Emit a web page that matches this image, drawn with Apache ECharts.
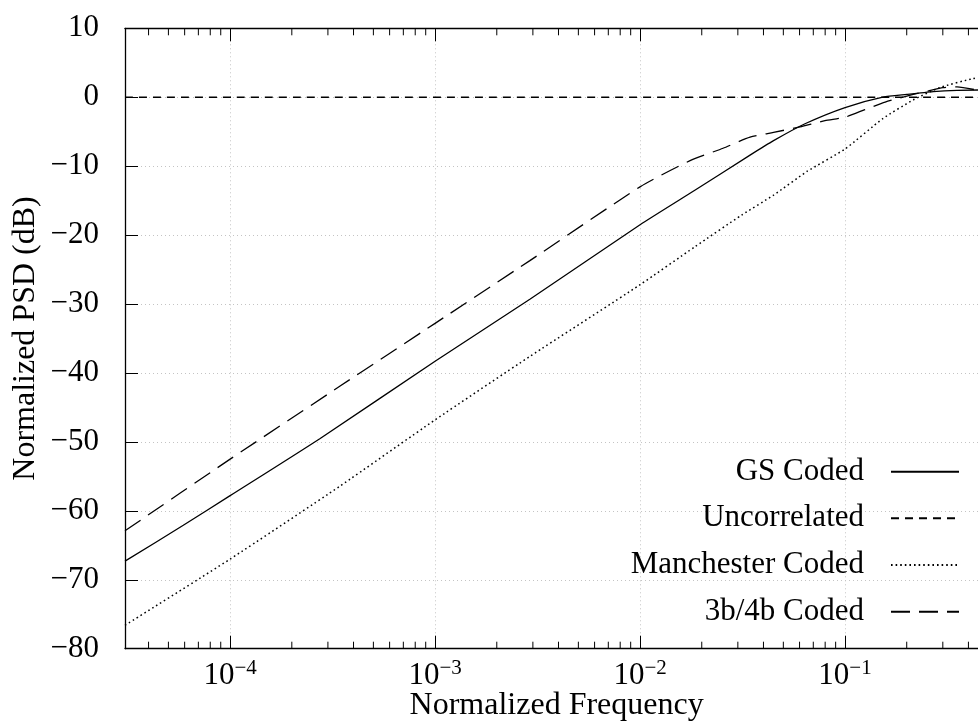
<!DOCTYPE html>
<html>
<head>
<meta charset="utf-8">
<script src="https://cdn.jsdelivr.net/npm/echarts@6/dist/echarts.min.js"></script>
<style>
html,body{margin:0;padding:0;background:#fff;}
#chart{width:978px;height:721px;}
</style>
</head>
<body>
<div id="chart"></div>
<script>
// ---- data ----
const xMin = 3.07e-5;
const xMax = 0.5;

const gsFreq = [3.07e-5, 5.91e-5, 1e-4, 2.75e-4, 1e-3, 2.9e-3, 1e-2, 1.85e-2, 3.44e-2, 4.48e-2, 6.38e-2, 0.1, 0.153, 0.2, 0.269, 0.352, 0.446, 0.5];
const gsDb   = [-67.3, -62.1, -57.8, -49.5, -38.3, -29.3, -18.5, -13.5, -8.4, -6.3, -3.85, -1.5, 0, 0.4, 0.8, 1.0, 1.05, 1.0];

const uncFreq = [3.07e-5, 0.5];
const uncDb   = [0, 0];

const manFreq = [3.07e-5, 1e-4, 3.44e-4, 1e-3, 2.9e-3, 1e-2, 1.85e-2, 3.13e-2, 4.48e-2, 6.5e-2, 0.1, 0.153, 0.215, 0.29, 0.42, 0.5];
const manDb   = [-76.6, -67.0, -56.4, -46.8, -37.6, -27.2, -21.7, -17.1, -14.2, -10.8, -7.5, -3.1, -0.4, 1.4, 2.7, 3.1];

const b34Freq = [3.07e-5, 1e-4, 3.44e-4, 1e-3, 2.9e-3, 1e-2, 1.754e-2, 2.54e-2, 3.44e-2, 4.48e-2, 6.03e-2, 7.98e-2, 0.1, 0.125, 0.157, 0.215, 0.254, 0.3, 0.352, 0.446, 0.5];
const b34Db   = [-62.9, -52.5, -41.9, -32.8, -23.7, -13.0, -9.2, -7.4, -5.8, -5.1, -4.3, -3.4, -2.9, -1.8, -0.7, 0.4, 0.9, 1.4, 1.5, 1.0, 0.6];

const seriesNames = ['GS Coded', 'Uncorrelated', 'Manchester Coded', '3b/4b Coded'];
const yTicks = [-80, -70, -60, -50, -40, -30, -20, -10, 0, 10];
const minorTickFreq = [4e-5,5e-5,6e-5,7e-5,8e-5,9e-5,
  2e-4,3e-4,4e-4,5e-4,6e-4,7e-4,8e-4,9e-4,
  2e-3,3e-3,4e-3,5e-3,6e-3,7e-3,8e-3,9e-3,
  2e-2,3e-2,4e-2,5e-2,6e-2,7e-2,8e-2,9e-2,
  0.2,0.3,0.4];

// ---- build ----
const FONT = '"Liberation Serif", "Times New Roman", serif';
const zip = (a, b) => a.map((v, i) => [v, b[i]]);
const MINUS = '\u2212';

const lineBase = (name, f, d, dash, w) => ({
  name: name,
  type: 'line',
  data: zip(f, d),
  symbol: 'none',
  showSymbol: false,
  smooth: 0.2,
  clip: true,
  z: 3,
  lineStyle: { color: '#000', width: w, type: dash, cap: 'butt' },
  itemStyle: { color: '#000' },
  emphasis: { disabled: true }
});

const legendRows = [471.7, 518.3, 565, 611.7];
const legends = seriesNames.map((n, i) => ({
  data: [n],
  orient: 'vertical',
  right: 18,
  top: legendRows[i] - 16,
  align: 'right',
  padding: 0,
  itemWidth: 68,
  itemHeight: 14,
  selectedMode: false,
  itemStyle: { opacity: 0, borderWidth: 0 },
  textStyle: { fontFamily: FONT, fontSize: 31, color: '#000', lineHeight: 32, padding: [0, 22, 0, 0] }
}));

const chart = echarts.init(document.getElementById('chart'), null, { renderer: 'canvas' });
const option = {
  animation: false,
  backgroundColor: '#fff',
  grid: { left: 125, top: 28.3, width: 863.3, height: 620.4, outerBoundsMode: 'none', containLabel: false },
  legend: legends,
  xAxis: [
    {
      type: 'log', logBase: 10, min: xMin, max: xMax,
      name: 'Normalized Frequency', nameLocation: 'middle', nameGap: 41, nameMoveOverlap: false,
      nameTextStyle: { fontFamily: FONT, fontSize: 32, color: '#000' },
      axisLine: { show: true, onZero: false, lineStyle: { color: '#000', width: 1.3 } },
      axisTick: { show: true, inside: true, length: 13, lineStyle: { color: '#000', width: 1 } },
      axisLabel: {
        show: true, margin: 9, showMinLabel: false, showMaxLabel: false,
        formatter: function (v) {
          const e = Math.round(Math.log10(v));
          if (Math.abs(Math.log10(v) - e) > 1e-6) return '';
          return '{m|10}{s|' + (e < 0 ? MINUS + (-e) : e) + '}';
        },
        rich: {
          m: { fontFamily: FONT, fontSize: 31, color: '#000' },
          s: { fontFamily: FONT, fontSize: 21, color: '#000', padding: [0, 0, 16, 0] }
        }
      },
      splitLine: { show: true, lineStyle: { color: '#c4c4c4', width: 1, type: [1, 3] } },
      minorTick: { show: false }
    },
    {
      type: 'log', logBase: 10, min: xMin, max: xMax, position: 'top',
      axisLine: { show: true, onZero: false, lineStyle: { color: '#000', width: 1.3 } },
      axisTick: { show: true, inside: true, length: 13, lineStyle: { color: '#000', width: 1 } },
      axisLabel: { show: false },
      splitLine: { show: false }
    }
  ],
  yAxis: [
    {
      type: 'value', min: yTicks[0], max: yTicks[yTicks.length - 1], interval: 10,
      name: 'Normalized PSD (dB)', nameLocation: 'middle', nameGap: 83, nameRotate: 90, nameMoveOverlap: false,
      nameTextStyle: { fontFamily: FONT, fontSize: 32, color: '#000' },
      axisLine: { show: true, onZero: false, lineStyle: { color: '#000', width: 1.3 } },
      axisTick: { show: true, inside: true, length: 13, lineStyle: { color: '#000', width: 1 } },
      axisLabel: {
        margin: 26, fontFamily: FONT, fontSize: 31, color: '#000',
        formatter: v => (v < 0 ? MINUS + (-v) : '' + v)
      },
      splitLine: { show: true, lineStyle: { color: '#c4c4c4', width: 1, type: [1, 3] } }
    }
  ],
  series: [
    lineBase(seriesNames[0], gsFreq, gsDb, 'solid', 1.3),
    lineBase(seriesNames[1], uncFreq, uncDb, [8, 6], 1.3),
    lineBase(seriesNames[2], manFreq, manDb, [1.6, 3], 1.5),
    lineBase(seriesNames[3], b34Freq, b34Db, [19, 9], 1.3),
    {
      type: 'custom',
      silent: true,
      clip: false,
      z: 4,
      data: minorTickFreq.map(f => [f, yTicks[0]]),
      renderItem: function (params, api) {
        const f = api.value(0);
        const pb = api.coord([f, yTicks[0]]);
        const pt = api.coord([f, yTicks[yTicks.length - 1]]);
        return {
          type: 'group',
          children: [
            { type: 'line', shape: { x1: pb[0], y1: pb[1], x2: pb[0], y2: pb[1] - 7 }, style: { stroke: '#000', lineWidth: 1 } },
            { type: 'line', shape: { x1: pt[0], y1: pt[1], x2: pt[0], y2: pt[1] + 7 }, style: { stroke: '#000', lineWidth: 1 } }
          ]
        };
      }
    }
  ]
};
chart.setOption(option);
</script>
</body>
</html>
